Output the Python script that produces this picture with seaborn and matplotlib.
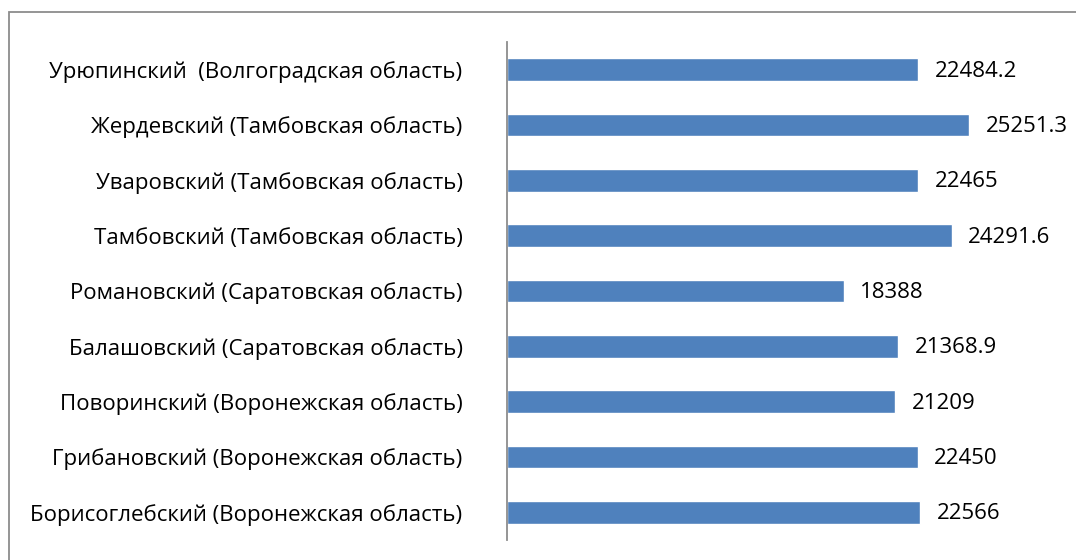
import matplotlib
matplotlib.use("Agg")
import matplotlib.pyplot as plt
import seaborn as sns
import pandas as pd

districts = [
    "Урюпинский  (Волгоградская область)",
    "Жердевский (Тамбовская область)",
    "Уваровский (Тамбовская область)",
    "Тамбовский (Тамбовская область)",
    "Романовский (Саратовская область)",
    "Балашовский (Саратовская область)",
    "Поворинский (Воронежская область)",
    "Грибановский (Воронежская область)",
    "Борисоглебский (Воронежская область)",
]
values = [22484.2, 25251.3, 22465, 24291.6, 18388, 21368.9, 21209, 22450, 22566]
value_labels = ["22484.2", "25251.3", "22465", "24291.6", "18388", "21368.9", "21209", "22450", "22566"]


def main():
    df = pd.DataFrame({"district": districts, "value": values})

    sns.set_theme(style="white")
    plt.rcParams["font.family"] = ["Open Sans", "DejaVu Sans"]

    fig = plt.figure(figsize=(10.76, 5.6), dpi=100)
    ax = fig.add_axes([507 / 1076, 20 / 560, 549 / 1076, 498 / 560])

    sns.barplot(data=df, x="value", y="district", color="#4f81bd",
                saturation=1, width=0.41, ax=ax, orient="h")

    for i, (v, lab) in enumerate(zip(values, value_labels)):
        ax.text(v + 900, i + 0.03, lab, va="center", ha="left", fontsize=16, color="black")

    ax.set_xlim(0, 30000)
    ax.set_ylim(8.5, -0.5)
    ax.set_xlabel("")
    ax.set_ylabel("")
    ax.set_xticks([])
    ax.tick_params(axis="y", length=0, pad=32, labelsize=16, labelcolor="black")
    for s in ["top", "right", "bottom"]:
        ax.spines[s].set_visible(False)
    ax.spines["left"].set_color("#8c8c8c")
    ax.spines["left"].set_linewidth(1.3)

    # chart frame
    frame = plt.Rectangle((9 / 1076, -0.1), 1.2, 1 - 12 / 560 + 0.1,
                          transform=fig.transFigure, fill=False,
                          edgecolor="#8c8c8c", linewidth=1.3, clip_on=False)
    fig.patches.append(frame)

    fig.savefig("out.png", dpi=100)


if __name__ == "__main__":
    main()
